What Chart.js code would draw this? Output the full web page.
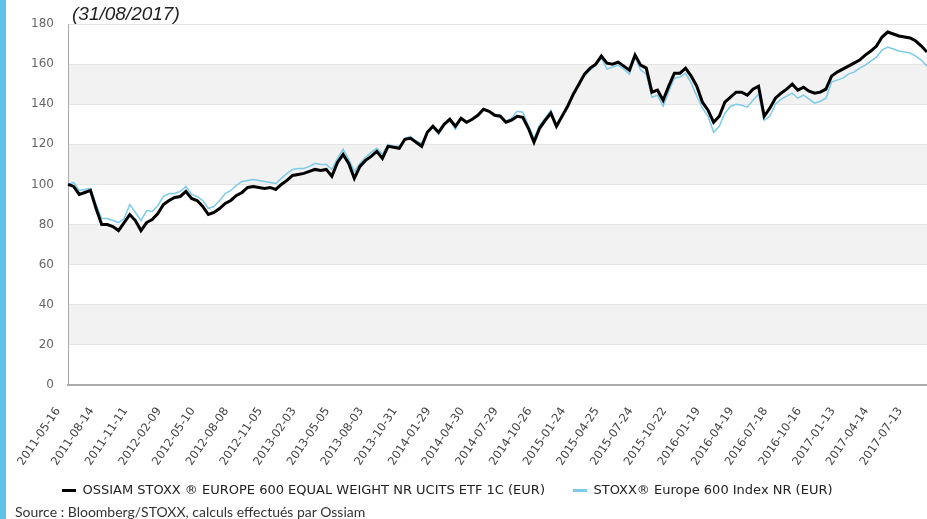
<!DOCTYPE html>
<html>
<head>
<meta charset="utf-8">
<script src="https://cdn.jsdelivr.net/npm/chart.js@4.4.0/dist/chart.umd.min.js"></script>
<style>
  body { margin: 0; background: #fff; overflow: hidden; }
  #wrap { position: relative; width: 927px; height: 519px; }
  #myChart { position: absolute; left: 0; top: 0; }
  #bar { position: absolute; left: 0; top: 0; width: 6px; height: 519px; background: #62c3e8; }
  #title { position: absolute; left: 72px; top: 3px; font: italic 19px/22px "Liberation Sans", Arial, sans-serif; color: #222; }
  #source { position: absolute; left: 15px; top: 503px; font: 14px/17px Lato, "Noto Sans", sans-serif; color: #333; }
</style>
</head>
<body>
<div id="wrap">
  <canvas id="myChart" width="927" height="519"></canvas>
  <div id="bar"></div>
  <div id="title">(31/08/2017)</div>
  <div id="source">Source : Bloomberg/STOXX, calculs effectués par Ossiam</div>
</div>
<script>
// tick labels on the x axis, one every 6 points (points are ~15 days apart)
var tickLabels = ["2011-05-16","2011-08-14","2011-11-11","2012-02-09","2012-05-10","2012-08-08",
  "2012-11-05","2013-02-03","2013-05-05","2013-08-03","2013-10-31","2014-01-29","2014-04-30",
  "2014-07-29","2014-10-26","2015-01-24","2015-04-25","2015-07-24","2015-10-22","2016-01-19",
  "2016-04-19","2016-07-18","2016-10-16","2017-01-13","2017-04-14","2017-07-13"];
var pointsPerTick = 6;

// OSSIAM STOXX Europe 600 Equal Weight
var ossiam = [100,99,95,96,97,88,80,80,79,77,81,85,82,77,81,82.5,85.5,90,92,93.5,94,96.5,93,92,89,85,86,88,90.5,92,94.5,96,
  98.5,99,98.5,98,98.5,97.5,100,102,104.5,105,105.5,106.5,107.5,107,107.5,104,111,115,110.5,103,109,112,114,116.5,113,119,118.5,118,122.5,123,
  121,119,126,129,126,130,132.5,129,133,131,132.5,134.5,137.5,136.5,134.5,134,131,132,134,133.5,128,121,128,132,135.5,129,134,139,145,150,155,
  158,160,164,160.5,160,161,159,157,164.5,159.5,158,146,147,142,149,155.5,155.5,158,154,149,141,137,131,134,141,143.5,146,146,144.5,147.5,
  149,134,138,143,145.5,147.5,150,147,148.5,146.5,145.5,146,147.5,154,156,157.5,159,160.5,162,164.5,166.5,169,173.5,176,175,174,173.5,173,171.5,169,166];

// STOXX Europe 600 Index NR
var stoxx = [100,101,97,97.5,98,90,83,83,82,81,83,90,86,82,87,86.5,89.5,94,95.5,95.5,96.5,99,95,94,92,88,89,92,95.5,97,99.5,101.5,
  102,102.5,102,101.5,101,100.5,103,105.5,107.5,108,108,109,110.5,110,110,107.5,113,117.5,112.5,106.5,110.5,113.5,116,118,115,120,119,119,123,124,
  121.5,120.5,126,128.5,125,129.5,132,127.5,132.5,130.5,132.5,134.5,137.5,136.5,135,134.5,131.5,133,136.5,136,129.5,123,129.5,133,137,130,134,138.5,144.5,149.5,154.5,
  157,159.5,163,157.5,158.5,159.5,157.5,155,163.5,157,155,143.5,144.5,139,146.5,153,153.5,155.5,150.5,144,138,134,126,129,135.5,139,140,139.5,138.5,142,
  145,132,134,140,142.5,144,145.5,143,144.5,142.5,140.5,141.5,143,151,152,153,155,156,158,159.5,161.5,163.5,167,168.5,167.5,166.5,166,165.5,164,162,159];

var seriesNames = ["OSSIAM STOXX ® EUROPE 600 EQUAL WEIGHT NR UCITS ETF 1C (EUR)", "STOXX® Europe 600 Index NR (EUR)"];

// one category per point, only every 6th one carries a date
var categories = [];
for (var i = 0; i < ossiam.length; i++) {
    var k = i / pointsPerTick;
    categories.push(i % pointsPerTick === 0 && k < tickLabels.length ? tickLabels[k] : "");
}

// grey bands between every other gridline
var bands = {
    id: "bands",
    beforeDraw: function(chart) {
        var ctx = chart.ctx, y = chart.scales.y, area = chart.chartArea;
        ctx.save();
        ctx.fillStyle = "#f2f2f2";
        for (var v = 20; v < 180; v += 40) {
            var top = y.getPixelForValue(v + 20), bottom = y.getPixelForValue(v);
            ctx.fillRect(area.left, top, area.right - area.left, bottom - top);
        }
        ctx.restore();
    }
};

// move the legend right and up, like in the original
var legendShift = {
    id: "legendShift",
    afterLayout: function(chart) {
        chart.legend.left += 34;
        chart.legend.right += 34;
        chart.legend.top -= 12;
        chart.legend.bottom -= 12;
    }
};

const ctx = document.getElementById("myChart").getContext("2d");
const myChart = new Chart(ctx, {
    type: "line",
    data: {
        labels: categories,
        datasets: [{
            label: seriesNames[0],
            data: ossiam,
            borderColor: "#000000",
            backgroundColor: "#000000",
            borderWidth: 3,
            pointRadius: 0,
            tension: 0,
            fill: false
        }, {
            label: seriesNames[1],
            data: stoxx,
            borderColor: "#7dcbe8",
            backgroundColor: "#7dcbe8",
            borderWidth: 1.5,
            pointRadius: 0,
            tension: 0,
            fill: false
        }]
    },
    options: {
        responsive: false,
        animation: false,
        layout: { padding: { left: 0, right: 0, top: 24, bottom: 0 } },
        plugins: {
            tooltip: { enabled: false },
            legend: {
                position: "bottom",
                align: "start",
                labels: {
                    boxWidth: 14,
                    boxHeight: 3,
                    padding: 28,
                    color: "#222",
                    font: { family: "DejaVu Sans", size: 13 },
                    generateLabels: function(chart) {
                        var items = Chart.defaults.plugins.legend.labels.generateLabels(chart);
                        items.forEach(function(it) { it.lineWidth = 0; });
                        return items;
                    }
                }
            }
        },
        scales: {
            x: {
                grid: { display: false, drawTicks: false },
                border: { display: true, color: "#aaaaaa", width: 2 },
                ticks: {
                    autoSkip: false,
                    minRotation: 56,
                    maxRotation: 56,
                    padding: 20,
                    labelOffset: -10,
                    color: "#444",
                    font: { family: "DejaVu Sans", size: 11.5 }
                },
                afterFit: function(scale) {
                    scale.height = 83;
                    scale.paddingLeft = 0;
                    scale.paddingRight = 0;
                }
            },
            y: {
                min: 0,
                max: 180,
                ticks: {
                    stepSize: 20,
                    padding: 14,
                    color: "#666",
                    font: { family: "DejaVu Sans", size: 12 }
                },
                grid: { color: "#e4e4e4", drawTicks: false },
                border: { display: true, color: "#aaaaaa", width: 1 },
                afterFit: function(scale) {
                    scale.width = 68;
                }
            }
        }
    },
    plugins: [bands, legendShift]
});
</script>
</body>
</html>
